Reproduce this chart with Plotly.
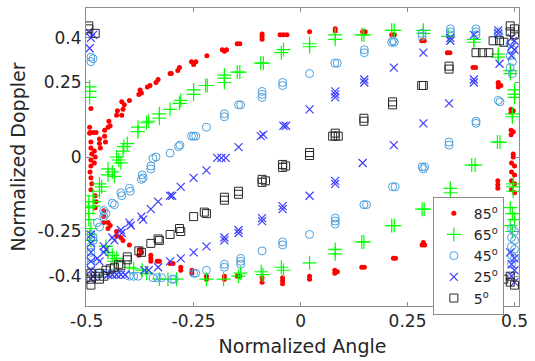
import plotly.graph_objects as go

# ---- data (normalized angle, normalized doppler) ----
x85 = [-0.493, -0.493, -0.49, -0.492, -0.485, -0.478, -0.49, -0.49, -0.488, -0.49, -0.49, -0.492, -0.49, -0.488, -0.49,
       -0.482, -0.48, -0.482, -0.47, -0.47, -0.468, -0.458, -0.458, -0.456, -0.45, -0.448, -0.445, -0.43, -0.428,
       -0.418, -0.415, -0.412, -0.418, -0.40, -0.378, -0.375, -0.372, -0.358, -0.352, -0.338, -0.333, -0.305, -0.302,
       -0.287, -0.283, -0.255, -0.25, -0.245, -0.219, -0.183, -0.178, -0.173, -0.148, -0.142, -0.09, -0.09, -0.09,
       -0.048, -0.04, -0.032, 0.021, 0.081, 0.081, 0.145, 0.151, 0.213, 0.219, 0.283, 0.289, 0.343, 0.349, 0.403, 0.409,
       0.462, 0.462, 0.468, 0.462, 0.492, 0.497, 0.492, 0.492, 0.497, 0.492, 0.497, 0.497,
       0.493, 0.5, 0.493, 0.5, 0.493, 0.5, 0.493, 0.5, 0.461, 0.461, 0.461,
       0.284, 0.29, 0.287, 0.217, 0.222, 0.143, 0.149, 0.08, 0.08, 0.086, 0.021, 0.021, -0.042, -0.042, -0.042,
       -0.09, -0.09, -0.148, -0.142, -0.178, -0.178, -0.22, -0.22, -0.254, -0.254, -0.28, -0.28, -0.305, -0.298,
       -0.335, -0.33, -0.35, -0.35, -0.35, -0.375, -0.372, -0.378, -0.40, -0.42, -0.415, -0.43, -0.43,
       -0.45, -0.445, -0.45, -0.46, -0.46, -0.46, -0.48, -0.478, -0.48]
y85 = [0.08, 0.10, 0.163, 0.082, 0.082, 0.082, 0.05, 0.03, 0.01, -0.01, -0.03, -0.05, -0.07, -0.09, -0.11,
       0.02, 0.0, -0.02, 0.06, 0.045, 0.03, 0.07, 0.09, 0.05, 0.1, 0.12, 0.105, 0.14, 0.155,
       0.14, 0.16, 0.175, 0.185, 0.19, 0.21, 0.225, 0.215, 0.235, 0.24, 0.25, 0.26, 0.28, 0.28,
       0.29, 0.30, 0.32, 0.31, 0.32, 0.34, 0.36, 0.355, 0.36, 0.38, 0.38, 0.395, 0.405, 0.413,
       0.41, 0.41, 0.41, 0.42, 0.423, 0.43, 0.42, 0.42, 0.41, 0.41, 0.39, 0.39, 0.35, 0.35, 0.30, 0.30,
       0.25, 0.235, 0.24, 0.245, 0.16, 0.155, 0.15, 0.09, 0.085, 0.075, 0.01, 0.0,
       -0.02, -0.03, -0.05, -0.06, -0.08, -0.09, -0.11, -0.12, -0.08, -0.093, -0.105,
       -0.295, -0.295, -0.287, -0.34, -0.34, -0.37, -0.37, -0.38, -0.39, -0.385, -0.40, -0.41, -0.405, -0.415, -0.425,
       -0.405, -0.42, -0.40, -0.40, -0.40, -0.41, -0.40, -0.41, -0.38, -0.39, -0.37, -0.38, -0.357, -0.357,
       -0.35, -0.35, -0.33, -0.34, -0.35, -0.31, -0.32, -0.33, -0.295, -0.27, -0.28, -0.25, -0.265,
       -0.22, -0.23, -0.24, -0.18, -0.20, -0.22, -0.13, -0.15, -0.17]

x65 = [-0.493, -0.493, -0.493, -0.43, -0.425, -0.42, -0.415, -0.413, -0.405, -0.38, -0.38, -0.36, -0.355, -0.33, -0.33,
       -0.305, -0.283, -0.28, -0.25, -0.25, -0.222, -0.218, -0.178, -0.178, -0.178, -0.148, -0.142, -0.093, -0.087,
       -0.045, -0.04, 0.021, 0.021, 0.081, 0.081, 0.143, 0.148, 0.213, 0.219, 0.287, 0.287, 0.345, 0.405, 0.405,
       0.462, 0.462, 0.49, 0.49, 0.5, 0.5, 0.5, 0.495, 0.495, 0.46, 0.466, 0.40, 0.408,
       0.497, 0.497, 0.497, 0.49, 0.495, 0.5, 0.49, 0.495,
       -0.45, -0.44, -0.45, -0.435, -0.47, -0.465, -0.47, -0.485, -0.483, -0.485,
       -0.495, -0.495, -0.495, -0.495, -0.49, -0.492, -0.49, -0.455, -0.45, -0.44, -0.435, -0.43,
       -0.40, -0.39, -0.37, -0.36, -0.33, -0.31, -0.29, -0.22, -0.18, -0.145, -0.14, -0.092, -0.088,
       -0.045, -0.04, 0.021, 0.081, 0.081, 0.143, 0.148, 0.213, 0.219, 0.284, 0.289, 0.35, 0.35]
y65 = [0.20, 0.22, 0.235, 0.0, -0.01, -0.02, 0.02, 0.035, 0.045, 0.085, 0.10, 0.115, 0.12, 0.13, 0.145,
       0.16, 0.18, 0.19, 0.21, 0.225, 0.24, 0.24, 0.25, 0.265, 0.275, 0.285, 0.285, 0.315, 0.315,
       0.35, 0.36, 0.37, 0.38, 0.395, 0.41, 0.41, 0.41, 0.425, 0.425, 0.415, 0.425, 0.405, 0.385, 0.395,
       0.335, 0.345, 0.28, 0.29, 0.20, 0.21, 0.225, 0.135, 0.145, 0.05, 0.05, -0.027, -0.027,
       -0.09, -0.10, -0.115, -0.17, -0.19, -0.21, -0.23, -0.25,
       -0.04, -0.05, -0.06, -0.065, -0.09, -0.10, -0.115, -0.13, -0.15, -0.165,
       -0.15, -0.17, -0.19, -0.21, -0.24, -0.26, -0.28, -0.30, -0.32, -0.33, -0.35, -0.34,
       -0.37, -0.375, -0.38, -0.39, -0.41, -0.41, -0.41, -0.41, -0.41, -0.40, -0.39, -0.385, -0.395,
       -0.37, -0.38, -0.355, -0.31, -0.325, -0.285, -0.285, -0.23, -0.23, -0.175, -0.175, -0.105, -0.12]

x45 = [-0.49, -0.49, -0.485, -0.49, -0.49, -0.49, -0.49, -0.49, -0.485, -0.485, -0.475, -0.47, -0.46, -0.455, -0.46,
       -0.44, -0.435, -0.42, -0.418, -0.40, -0.398, -0.37, -0.368, -0.372, -0.35, -0.35, -0.345, -0.338, -0.305,
       -0.285, -0.282, -0.255, -0.25, -0.245, -0.22, -0.178, -0.178, -0.145, -0.14, -0.09, -0.09, -0.09,
       -0.042, -0.042, 0.021, 0.08, 0.086, 0.149, 0.149, 0.213, 0.219, 0.216, 0.284, 0.284, 0.35, 0.35, 0.35,
       0.41, 0.41, 0.41, 0.462, 0.462, 0.49, 0.495, 0.49, 0.495, 0.49, 0.495, 0.462, 0.466, 0.41, 0.41,
       0.347, 0.347, 0.284, 0.29, 0.287, 0.215, 0.221, 0.148, 0.154, 0.081, 0.081, 0.081, 0.021,
       -0.042, -0.042, -0.09, -0.14, -0.14, -0.14, -0.178, -0.178, -0.22, -0.25, -0.245, -0.30, -0.295,
       -0.345, -0.335, -0.325, -0.40, -0.39, -0.38, -0.47, -0.455, -0.44, -0.43,
       0.493, 0.5, 0.493, 0.5, 0.493, 0.5, 0.493, 0.5, 0.493]
y45 = [0.32, 0.335, 0.33, -0.30, -0.32, -0.34, -0.36, -0.26, -0.27, -0.28, -0.22, -0.235, -0.18, -0.19, -0.20,
       -0.155, -0.16, -0.12, -0.13, -0.105, -0.115, -0.06, -0.07, -0.075, -0.03, -0.04, -0.005, 0.0, 0.013,
       0.035, 0.04, 0.07, 0.07, 0.07, 0.10, 0.135, 0.145, 0.175, 0.175, 0.20, 0.21, 0.22,
       0.24, 0.25, 0.28, 0.315, 0.315, 0.35, 0.36, 0.385, 0.385, 0.39, 0.405, 0.415, 0.41, 0.42, 0.43,
       0.41, 0.42, 0.43, 0.41, 0.42, 0.38, 0.36, 0.34, 0.32, 0.30, 0.28, 0.19, 0.185, 0.113, 0.12,
       0.04, 0.05, -0.033, -0.033, -0.04, -0.10, -0.10, -0.16, -0.16, -0.205, -0.215, -0.225, -0.26,
       -0.285, -0.295, -0.315, -0.34, -0.35, -0.36, -0.36, -0.37, -0.38, -0.39, -0.39, -0.41, -0.41,
       -0.405, -0.405, -0.405, -0.40, -0.40, -0.40, -0.39, -0.39, -0.39, -0.39,
       -0.24, -0.25, -0.27, -0.28, -0.30, -0.31, -0.33, -0.34, -0.36]

x25 = [-0.493, -0.49, -0.485, -0.495, -0.49, -0.49, -0.49, -0.49, -0.49, -0.49, -0.485, -0.475, -0.47,
       -0.46, -0.455, -0.46, -0.44, -0.435, -0.42, -0.418, -0.40, -0.397, -0.372, -0.368, -0.35, -0.333,
       -0.305, -0.30, -0.28, -0.25, -0.22, -0.195, -0.185, -0.175, -0.145, -0.093, -0.087, -0.04, -0.034,
       0.021, 0.081, 0.081, 0.081, 0.149, 0.149, 0.218, 0.287, 0.35, 0.35, 0.405, 0.462, 0.462,
       0.493, 0.5, 0.493, 0.5, 0.493, 0.465, 0.405, 0.405, 0.347, 0.287, 0.218, 0.145, 0.081, 0.081, 0.021,
       -0.042, -0.042, -0.09, -0.09, -0.145, -0.145, -0.178, -0.178, -0.22, -0.25, -0.28, -0.305, -0.333,
       -0.365, -0.355, -0.45, -0.44, -0.43, -0.42, -0.41,
       0.49, 0.5, 0.493, 0.5, 0.493, 0.5]
y25 = [0.365, 0.40, 0.41, 0.42, -0.26, -0.29, -0.32, -0.35, -0.38, -0.41, -0.40, -0.34, -0.35,
       -0.30, -0.31, -0.32, -0.27, -0.28, -0.245, -0.255, -0.22, -0.23, -0.20, -0.21, -0.175, -0.15,
       -0.13, -0.13, -0.10, -0.07, -0.045, -0.003, -0.003, -0.003, 0.033, 0.07, 0.075, 0.105, 0.105,
       0.16, 0.20, 0.21, 0.22, 0.25, 0.26, 0.30, 0.35, 0.39, 0.40, 0.41, 0.415, 0.425,
       0.40, 0.39, 0.37, 0.36, 0.34, 0.313, 0.25, 0.26, 0.18, 0.113, 0.04, -0.02, -0.08, -0.09, -0.13,
       -0.165, -0.175, -0.205, -0.215, -0.245, -0.255, -0.27, -0.28, -0.30, -0.32, -0.34, -0.35, -0.37,
       -0.38, -0.38, -0.395, -0.395, -0.395, -0.395, -0.395,
       -0.32, -0.34, -0.36, -0.38, -0.40, -0.42]

x5 = [-0.495, -0.495, -0.48, -0.49, -0.49, -0.49, -0.48, -0.47, -0.47, -0.46, -0.455, -0.445, -0.435, -0.425, -0.42,
      -0.405, -0.405, -0.378, -0.372, -0.35, -0.333, -0.33, -0.305, -0.283, -0.28, -0.25, -0.225, -0.22,
      -0.178, -0.178, -0.145, -0.145, -0.09, -0.09, -0.082, -0.042, -0.042, -0.035, 0.021, 0.021,
      0.081, 0.081, 0.075, 0.088, 0.148, 0.148, 0.215, 0.215, 0.287, 0.283, 0.347, 0.347,
      0.41, 0.425, 0.44, 0.45, 0.465, 0.475, 0.49, 0.5, 0.49, 0.5,
      0.475, 0.49, 0.5, 0.49]
y5 = [0.44, 0.43, 0.415, -0.39, -0.41, -0.43, -0.40, -0.39, -0.41, -0.40, -0.38, -0.375, -0.37, -0.36, -0.365,
      -0.345, -0.335, -0.315, -0.32, -0.29, -0.275, -0.28, -0.26, -0.24, -0.25, -0.20, -0.185, -0.19,
      -0.135, -0.145, -0.115, -0.125, -0.075, -0.085, -0.08, -0.025, -0.035, -0.03, 0.005, 0.015,
      0.07, 0.08, 0.07, 0.07, 0.12, 0.13, 0.175, 0.185, 0.24, 0.24, 0.295, 0.305,
      0.35, 0.35, 0.35, 0.39, 0.39, 0.385, 0.42, 0.43, 0.44, 0.41,
      -0.41, -0.42, -0.43, -0.40]

labels = ["85<sup>o</sup>", "65<sup>o</sup>", "45<sup>o</sup>", "25<sup>o</sup>", "5<sup>o</sup>"]
x_ticks = [-0.5, -0.25, 0, 0.25, 0.5]
x_ticktext = ["-0.5", "-0.25", "0", "0.25", "0.5"]
y_ticks = [-0.4, -0.25, 0, 0.25, 0.4]
y_ticktext = ["-0.4", "-0.25", "0", "0.25", "0.4"]

FONT = "DejaVu Sans"
TXT = "#262626"

fig = go.Figure()
fig.add_trace(go.Scatter(x=x85, y=y85, mode="markers", name=labels[0],
                         marker=dict(symbol="circle", size=5, color="#ff0000", line=dict(width=0))))
fig.add_trace(go.Scatter(x=x65, y=y65, mode="markers", name=labels[1],
                         marker=dict(symbol="cross-thin", size=10, color="#00ff00",
                                     line=dict(color="#00ff00", width=1.2))))
fig.add_trace(go.Scatter(x=x45, y=y45, mode="markers", name=labels[2],
                         marker=dict(symbol="circle-open", size=8, color="rgb(77,160,222)",
                                     line=dict(color="rgb(77,160,222)", width=1))))
fig.add_trace(go.Scatter(x=x25, y=y25, mode="markers", name=labels[3],
                         marker=dict(symbol="x-thin", size=8, color="rgb(60,60,255)",
                                     line=dict(color="rgb(60,60,255)", width=1.2))))
fig.add_trace(go.Scatter(x=x5, y=y5, mode="markers", name=labels[4],
                         marker=dict(symbol="square-open", size=8, color="rgb(40,40,40)",
                                     line=dict(color="rgb(40,40,40)", width=1))))

axis_common = dict(showline=True, linecolor="#8c8c8c", linewidth=1, mirror="ticks",
                   ticks="inside", ticklen=4, tickcolor="#8c8c8c", showgrid=False, zeroline=False,
                   tickfont=dict(family=FONT, size=17, color=TXT))

fig.update_layout(
    width=535, height=361, autosize=False,
    margin=dict(l=86, r=11, t=7, b=54),
    paper_bgcolor="white", plot_bgcolor="white",
    xaxis=dict(range=[-0.5015, 0.5105], tickvals=x_ticks, ticktext=x_ticktext,
               title=dict(text="Normalized Angle", font=dict(family=FONT, size=19, color=TXT), standoff=9),
               **axis_common),
    yaxis=dict(range=[-0.5, 0.5], tickvals=y_ticks, ticktext=y_ticktext,
               title=dict(text="Normalized Doppler", font=dict(family=FONT, size=19, color=TXT), standoff=6),
               **axis_common),
    legend=dict(x=0.801, y=0.367, xanchor="left", yanchor="top", bgcolor="white",
                bordercolor="#8c8c8c", borderwidth=1,
                font=dict(family=FONT, size=14, color=TXT), itemsizing="trace", tracegroupgap=0),
    showlegend=True,
)

fig.write_html("out.html")
